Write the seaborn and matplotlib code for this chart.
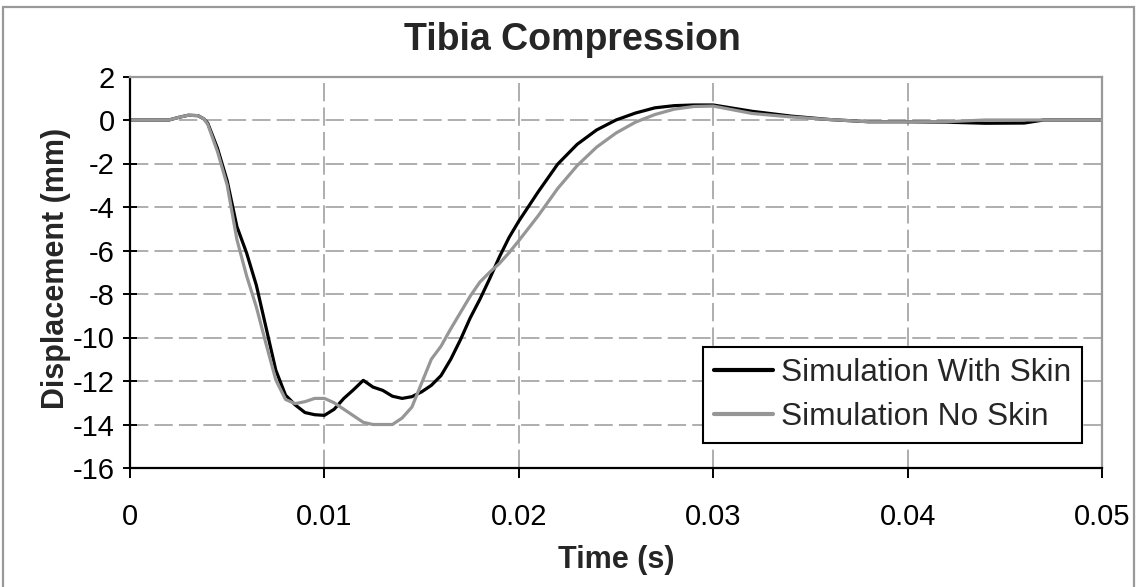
import matplotlib
matplotlib.use("Agg")
import matplotlib.pyplot as plt
import seaborn as sns
import pandas as pd
from matplotlib.patches import Rectangle

# Sample times (s)
time_s = [0, 0.001, 0.002, 0.0025, 0.003, 0.0035, 0.0038, 0.004, 0.0045, 0.005,
          0.0055, 0.006, 0.0065, 0.007, 0.0075, 0.008, 0.0085, 0.009, 0.0095, 0.010,
          0.0105, 0.011, 0.0115, 0.012, 0.0125, 0.013, 0.0135, 0.014, 0.0145, 0.015,
          0.0155, 0.016, 0.0165, 0.017, 0.0175, 0.018, 0.0185, 0.019, 0.0195, 0.020,
          0.021, 0.022, 0.023, 0.024, 0.025, 0.026, 0.027, 0.028, 0.029, 0.030,
          0.032, 0.034, 0.036, 0.038, 0.040, 0.042, 0.044, 0.046, 0.047, 0.048, 0.050]

# Tibia displacement (mm), model with skin
with_skin = [0, 0, 0, 0.12, 0.22, 0.20, 0.05, -0.15, -1.30, -2.80,
             -4.90, -6.12, -7.60, -9.55, -11.50, -12.65, -13.10, -13.45, -13.55, -13.58,
             -13.30, -12.80, -12.40, -11.97, -12.28, -12.43, -12.70, -12.80, -12.72, -12.50,
             -12.20, -11.75, -11.00, -10.10, -9.10, -8.24, -7.30, -6.30, -5.40, -4.65,
             -3.30, -2.03, -1.12, -0.46, 0.00, 0.32, 0.56, 0.66, 0.69, 0.69,
             0.40, 0.18, 0.02, -0.08, -0.08, -0.10, -0.15, -0.14, 0.00, 0.00, 0.00]

# Tibia displacement (mm), model without skin
no_skin = [0, 0, 0, 0.12, 0.22, 0.20, 0.05, -0.20, -1.45, -3.00,
           -5.50, -7.17, -8.60, -10.30, -11.95, -12.85, -13.04, -12.95, -12.80, -12.80,
           -13.00, -13.30, -13.60, -13.90, -14.00, -14.00, -14.00, -13.70, -13.20, -12.10,
           -11.00, -10.40, -9.60, -8.85, -8.10, -7.45, -7.00, -6.60, -6.10, -5.55,
           -4.40, -3.15, -2.10, -1.25, -0.60, -0.10, 0.25, 0.50, 0.62, 0.64,
           0.30, 0.14, 0.02, -0.08, -0.08, -0.08, 0.00, 0.00, 0.00, 0.00, 0.00]

series_names = ["Simulation With Skin", "Simulation No Skin"]
series_colors = ["#000000", "#969696"]

x_ticks = [0, 0.01, 0.02, 0.03, 0.04, 0.05]
x_ticklabels = ["0", "0.01", "0.02", "0.03", "0.04", "0.05"]
y_ticks = list(range(-16, 3, 2))

df = pd.concat([
    pd.DataFrame({"Time": time_s, "Displacement": with_skin, "Series": series_names[0]}),
    pd.DataFrame({"Time": time_s, "Displacement": no_skin, "Series": series_names[1]}),
], ignore_index=True)

sns.set_style("white")
plt.rcParams["font.family"] = ["Liberation Sans", "DejaVu Sans"]

W, H = 1141, 587
fig = plt.figure(figsize=(W / 100, H / 100), dpi=100)
ax = fig.add_axes([130 / W, 1 - 468 / H, (1102 - 130) / W, (468 - 76.5) / H])

# outer chart frame
fig.patches.append(Rectangle((3 / W, -0.05), (1134 - 3) / W, 1.05 - 7 / H,
                             transform=fig.transFigure, fill=False,
                             edgecolor="#999999", linewidth=1.6, zorder=0))

sns.lineplot(data=df, x="Time", y="Displacement", hue="Series",
             hue_order=series_names, palette=series_colors,
             linewidth=2.3, ax=ax, sort=False, legend=True)

ax.set_xlim(0, 0.05)
ax.set_ylim(-16, 2)
ax.set_xticks(x_ticks)
ax.set_xticklabels(x_ticklabels)
ax.set_yticks(y_ticks)
ax.set_yticklabels([str(v) for v in y_ticks])

ax.grid(True, color="#999999", linewidth=1.1, linestyle=(0, (12, 4)))
ax.set_axisbelow(True)

for side in ["left", "bottom"]:
    ax.spines[side].set_color("black")
    ax.spines[side].set_linewidth(1.6)
for side in ["top", "right"]:
    ax.spines[side].set_color("#999999")
    ax.spines[side].set_linewidth(1.6)

ax.tick_params(axis="x", direction="out", length=7, width=1.4, labelsize=21,
               pad=18, colors="black", bottom=True)
ax.tick_params(axis="y", direction="inout", length=10, width=1.4, labelsize=21,
               pad=6, colors="black", left=True)

ax.set_xlabel("")
ax.set_ylabel("")
fig.text(616 / W, 1 - 560 / H, "Time (s)", ha="center", va="center",
         fontsize=22, fontweight="bold")
fig.text(56 / W, 1 - 268 / H, "Displacement (mm)", ha="center", va="center",
         rotation=90, fontsize=22, fontweight="bold")
fig.text(572 / W, 1 - 40 / H, "Tibia Compression", ha="center", va="center",
         fontsize=27, fontweight="bold")

leg = ax.legend(title=None, loc="upper right",
                bbox_to_anchor=(1082 / W, 1 - 347 / H),
                bbox_transform=fig.transFigure,
                fontsize=22.8, frameon=True, fancybox=False, shadow=False,
                handlelength=1.85, handletextpad=0.26, labelspacing=0.45,
                borderpad=0.35, borderaxespad=0)
leg.get_frame().set_edgecolor("black")
leg.get_frame().set_linewidth(1.5)
leg.get_frame().set_facecolor("white")
leg.get_frame().set_alpha(1)
for line in leg.get_lines():
    line.set_linewidth(3)

fig.savefig("out.png", dpi=100, facecolor="white")
